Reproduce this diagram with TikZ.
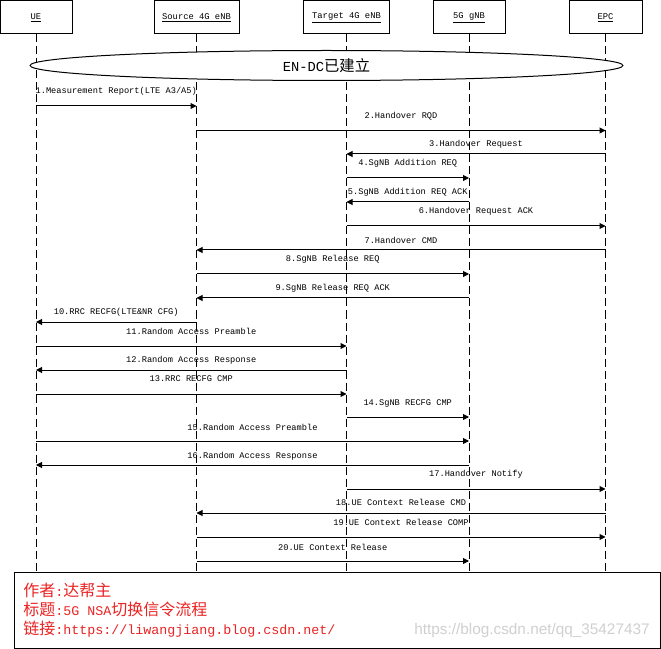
\documentclass[tikz,border=0pt]{standalone}
\usepackage{fontspec}
\setmonofont{Liberation Mono}
\newfontfamily\cjk{Noto Sans CJK SC}
\newfontfamily\wmfont{Liberation Sans}
\usetikzlibrary{arrows.meta}
\usetikzlibrary{shapes.geometric}
\definecolor{notered}{RGB}{235,35,35}
\definecolor{wmgray}{RGB}{208,208,208}
\newcommand\zhtxt[1]{{\cjk\fontsize{12}{14}\selectfont #1}}

\begin{document}
\begin{tikzpicture}[
            x=.75pt, y=-.75pt,
            entity/.style={draw, line width=.75pt, minimum height=24.75pt, inner sep=0pt,
                font=\ttfamily\fontsize{6.6}{8}\selectfont},
            lifeline/.style={line width=.75pt, dash pattern=on 6pt off 3pt},
            msg/.style={line width=.75pt, -{Triangle[length=4.5pt, width=4.5pt]}},
            lbl/.style={inner sep=0pt, font=\ttfamily\fontsize{6.5}{8}\selectfont},
            note/.style={inner sep=0pt, anchor=west, text=notered,
                font=\ttfamily\fontsize{10}{12}\selectfont},
        ]
            \useasboundingbox (0, 0) rectangle (661, 649);

            %% the five entities and their lifelines
            \node[entity, minimum width=54pt]    (ue)  at (36, 17.5)    {\underline{UE}};
            \node[entity, minimum width=63.75pt] (src) at (196.5, 17.5) {\underline{Source 4G eNB}};
            \node[entity, minimum width=64.5pt]  (tgt) at (346.5, 17.5) {\underline{Target 4G eNB}};
            \node[entity, minimum width=54pt]    (gnb) at (469, 17.5)   {\underline{5G gNB}};
            \node[entity, minimum width=54.75pt] (epc) at (605.5, 17.5) {\underline{EPC}};

            \coordinate (bot) at (0, 572);
            \foreach \n in {ue, src, tgt, gnb, epc}
                \draw[lifeline] (\n.south) -- (\n.south |- bot);

            \node[ellipse, draw, fill=white, line width=.75pt, inner sep=0pt,
                minimum width=444.75pt, minimum height=22.5pt] (endc) at (326.5, 65.5)
                {{\ttfamily\fontsize{10.3}{12}\selectfont EN-DC}{\cjk\fontsize{11.5}{12}\selectfont 已建立}};

            %% from / to / arrow y / label y / text
            \foreach \f/\t/\y/\ly/\txt [count=\i] in {
                ue/src/106/91/{1.Measurement Report(LTE A3/A5)},
                src/epc/130.5/116/{2.Handover RQD},
                epc/tgt/154/144/{3.Handover Request},
                tgt/gnb/178/163/{4.SgNB Addition REQ},
                gnb/tgt/202/192/{5.SgNB Addition REQ ACK},
                tgt/epc/226/211.5/{6.Handover Request ACK},
                epc/src/250/240/{7.Handover CMD},
                src/gnb/274/259/{8.SgNB Release REQ},
                gnb/src/298/288/{9.SgNB Release REQ ACK},
                src/ue/322/312.5/{10.RRC RECFG(LTE\&NR CFG)},
                ue/tgt/346/331/{11.Random Access Preamble},
                tgt/ue/370/360/{12.Random Access Response},
                ue/tgt/394/379/{13.RRC RECFG CMP},
                tgt/gnb/417/403/{14.SgNB RECFG CMP},
                ue/gnb/441/427/{15.Random Access Preamble},
                gnb/ue/465/456/{16.Random Access Response},
                tgt/epc/489/474.5/{17.Handover Notify},
                epc/src/513/502/{18.UE Context Release CMD},
                src/epc/537/522.5/{19.UE Context Release COMP},
                src/gnb/561/547/{20.UE Context Release}}{
                \coordinate (m\i) at (0, \y);
                \coordinate (l\i) at (0, \ly);
                \draw[msg] (\f |- m\i) -- (\t |- m\i);
                \path (\f |- l\i) -- (\t |- l\i) node[lbl, midway] (t\i) {\txt};
            }

            %% note box at the bottom
            \node[draw, fill=white, line width=.75pt, inner sep=0pt,
                minimum width=484.5pt, minimum height=57pt] (notebox) at (337, 610) {};
            \node[note] (author) at (23, 590)   {\zhtxt{作者}:\zhtxt{达帮主}};
            \node[note] (title)  at (23, 609.5) {\zhtxt{标题}:5G NSA\zhtxt{切换信令流程}};
            \node[note] (link)   at (23, 629)   {\zhtxt{链接}:https://liwangjiang.blog.csdn.net/};
            \node[inner sep=0pt, text=wmgray, font=\wmfont\fontsize{11.5}{13}\selectfont]
                (mark) at (532, 631) {https://blog.csdn.net/qq\_35427437};
        \end{tikzpicture}
\end{document}
